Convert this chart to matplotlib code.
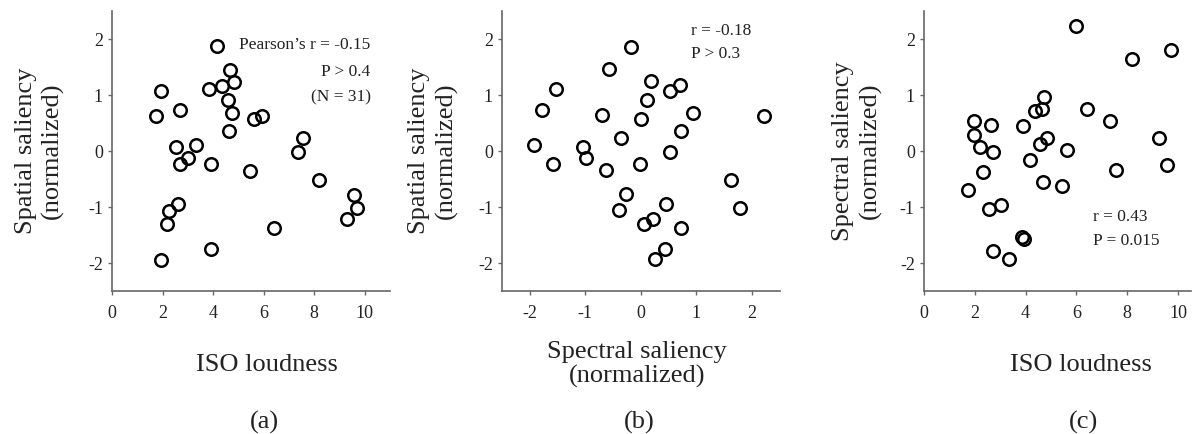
import matplotlib.pyplot as plt

plt.rcParams["font.family"] = ["Liberation Serif", "DejaVu Serif"]
plt.rcParams["axes.unicode_minus"] = False

# (a) ISO loudness vs spatial saliency
loud_a = [4.14, 4.68, 4.83, 4.36, 3.84, 1.93, 4.59, 4.75, 2.68, 1.74, 5.62,
          5.95, 4.64, 7.55, 7.36, 3.34, 2.55, 3.00, 2.68, 3.93, 5.45, 8.20,
          9.59, 9.72, 9.29, 2.62, 2.26, 2.16, 6.41, 3.91, 1.92]
spat_a = [1.87, 1.45, 1.24, 1.17, 1.10, 1.07, 0.92, 0.68, 0.73, 0.63, 0.57,
          0.62, 0.36, 0.24, -0.02, 0.10, 0.07, -0.125, -0.24, -0.24, -0.35, -0.51,
          -0.78, -1.01, -1.21, -0.95, -1.07, -1.30, -1.37, -1.75, -1.94]

# (b) spectral saliency vs spatial saliency
spec_b = [-0.17, -0.57, 0.19, 0.71, 0.52, -1.53, 0.12, -1.78, 0.94, -0.69, 0.01,
          2.22, 0.73, -0.35, -1.92, -1.04, -0.99, -1.58, -0.01, 0.52, -0.63, 1.63,
          -0.27, 0.46, 1.78, -0.39, 0.22, 0.05, 0.72, 0.44, 0.26]
spat_b = [1.86, 1.46, 1.25, 1.18, 1.07, 1.11, 0.92, 0.73, 0.68, 0.64, 0.57,
          0.63, 0.36, 0.24, 0.10, 0.08, -0.125, -0.24, -0.24, -0.02, -0.34, -0.51,
          -0.77, -0.95, -1.01, -1.05, -1.21, -1.30, -1.37, -1.75, -1.93]

# (c) ISO loudness vs spectral saliency
loud_c = [5.99, 9.72, 8.18, 4.74, 4.36, 4.66, 6.41, 7.34, 1.96, 2.66, 3.89,
          1.97, 4.84, 9.26, 4.58, 2.20, 5.64, 2.72, 4.16, 9.55, 7.55, 2.32,
          4.67, 5.45, 1.74, 3.03, 2.57, 3.88, 3.93, 2.74, 3.37]
spec_c = [2.23, 1.81, 1.65, 0.96, 0.72, 0.75, 0.75, 0.53, 0.53, 0.47, 0.45,
          0.28, 0.23, 0.24, 0.12, 0.08, 0.02, -0.01, -0.16, -0.25, -0.34, -0.38,
          -0.56, -0.63, -0.69, -0.96, -1.04, -1.54, -1.57, -1.78, -1.92]

txt = "#222222"
spine = "#666666"

fig = plt.figure(figsize=(11.92, 4.34), dpi=100)


def panel(rect, x, y, xlim, xticks, xlabel, ylabel, xlab_x, ylab_x):
    ax = fig.add_axes(rect)
    ax.plot(x, y, "o", ms=9, mfc="none", mec="black", mew=1.8, clip_on=False)
    ax.set_xlim(*xlim)
    ax.set_ylim(-2.5, 2.5)
    ax.set_xticks(xticks)
    ax.set_yticks([-2, -1, 0, 1, 2])
    for s in ["top", "right"]:
        ax.spines[s].set_visible(False)
    for s in ["left", "bottom"]:
        ax.spines[s].set_color(spine)
        ax.spines[s].set_linewidth(1.2)
    ax.tick_params(colors=spine, labelcolor=txt, labelsize=13, length=3, width=1)
    ax.tick_params(axis="x", pad=7)
    ax.set_xlabel(xlabel, fontsize=19, color=txt, linespacing=1.1)
    ax.xaxis.label.set_va("center")
    ax.xaxis.set_label_coords(xlab_x, -0.264)
    ax.set_ylabel(ylabel, fontsize=19, color=txt, linespacing=1.25)
    ax.yaxis.label.set_va("center")
    ax.yaxis.set_label_coords(ylab_x, 0.5)
    return ax


ax1 = panel([0.094, 0.3295, 0.233, 0.645], loud_a, spat_a, (0, 11),
            [0, 2, 4, 6, 8, 10], "ISO loudness",
            "Spatial saliency\n(normalized)", 0.558, -0.262)
ax1.text(10.24, 1.89, "Pearson\u2019s r = -0.15", ha="right", va="center",
         fontsize=12.5, color=txt)
ax1.text(10.24, 1.41, "P > 0.4", ha="right", va="center", fontsize=12.5, color=txt)
ax1.text(10.24, 0.95, "(N = 31)", ha="right", va="center", fontsize=12.5, color=txt)

ax2 = panel([0.4211, 0.3295, 0.233, 0.645], spec_b, spat_b, (-2.5, 2.5),
            [-2, -1, 0, 1, 2], "Spectral saliency\n(normalized)",
            "Spatial saliency\n(normalized)", 0.486, -0.248)
ax2.text(0.90, 2.14, "r = -0.18", ha="left", va="center", fontsize=12.5, color=txt)
ax2.text(0.90, 1.73, "P > 0.3", ha="left", va="center", fontsize=12.5, color=txt)

ax3 = panel([0.775, 0.3295, 0.224, 0.645], loud_c, spec_c, (0, 10.5),
            [0, 2, 4, 6, 8, 10], "ISO loudness",
            "Spectral saliency\n(normalized)", 0.59, -0.25)
ax3.text(6.65, -1.17, "r = 0.43", ha="left", va="center", fontsize=12.5, color=txt)
ax3.text(6.65, -1.60, "P = 0.015", ha="left", va="center", fontsize=12.5, color=txt)

# panel captions
for cx, cap in zip([0.222, 0.536, 0.9086], ["(a)", "(b)", "(c)"]):
    fig.text(cx, 0.027, cap, ha="center", va="center", fontsize=19, color=txt)

fig.savefig("out.png", dpi=100)
